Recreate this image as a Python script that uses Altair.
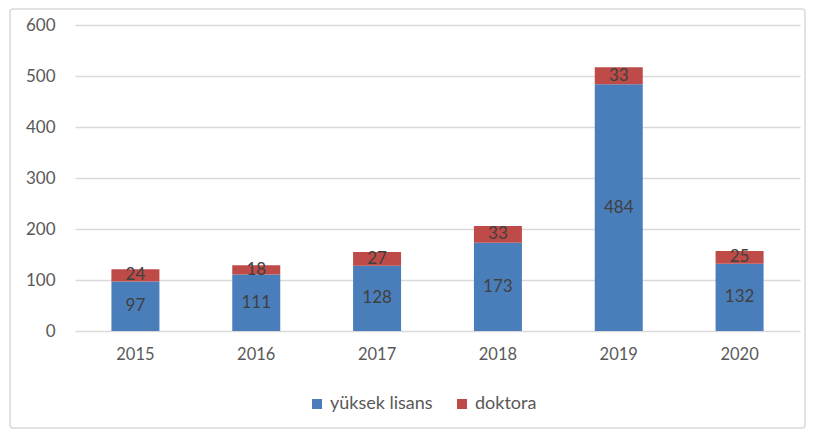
import altair as alt
import pandas as pd

years = ["2015", "2016", "2017", "2018", "2019", "2020"]
yuksek_lisans = [97, 111, 128, 173, 484, 132]
doktora = [24, 18, 27, 33, 33, 25]
series = ["yüksek lisans", "doktora"]
colors = ["#4A7EBB", "#BE4B48"]

rows = []
for i, y in enumerate(years):
    rows.append({"year": y, "series": series[0], "value": yuksek_lisans[i], "ord": 0})
    rows.append({"year": y, "series": series[1], "value": doktora[i], "ord": 1})
df = pd.DataFrame(rows)

FONT = "Lato"

base = alt.Chart(df).transform_stack(
    stack="value", groupby=["year"], as_=["s0", "s1"], sort=[alt.SortField("ord")]
).transform_calculate(mid="(datum.s0 + datum.s1) / 2")

bars = base.mark_bar(size=48).encode(
    x=alt.X("year:N", sort=years, title=None,
            axis=alt.Axis(labelAngle=0, labelFontSize=16.5, labelColor="#595959",
                          labelFont=FONT, ticks=False, domain=False, labelPadding=15)),
    y=alt.Y("s0:Q", title=None, scale=alt.Scale(domain=[0, 600]),
            axis=alt.Axis(values=[0, 100, 200, 300, 400, 500, 600], labelFontSize=17,
                          labelColor="#595959", labelFont=FONT, ticks=False, domain=False,
                          gridColor="#D9D9D9", gridWidth=1.5, labelPadding=20)),
    y2="s1:Q",
    color=alt.Color("series:N", scale=alt.Scale(domain=series, range=colors),
                    legend=alt.Legend(title=None, orient="none", direction="horizontal",
                                      legendX=233, legendY=370, symbolType="square",
                                      symbolSize=100, labelFontSize=18, labelFont=FONT,
                                      labelColor="#595959", columnPadding=20, labelOffset=4,
                                      symbolStrokeWidth=0)),
)

labels = base.mark_text(fontSize=17, font=FONT, color="#404040", baseline="middle").encode(
    x=alt.X("year:N", sort=years),
    y=alt.Y("mid:Q"),
    text="value:Q",
)

border = alt.Chart(pd.DataFrame({"a": [0]})).mark_rect(
    fill=None, stroke="#D9D9D9", strokeWidth=1.5, cornerRadius=3
).encode(x=alt.value(-65), x2=alt.value(730), y=alt.value(-16), y2=alt.value(403))

chart = alt.layer(border, bars, labels).properties(
    width=725, height=306,
    autosize=alt.AutoSizeParams(type="none"),
    padding={"left": 67, "top": 17, "right": 7, "bottom": 99},
).configure_view(stroke=None).configure_scale(bandPaddingInner=0.6, bandPaddingOuter=0.3)

chart.save("out.html", embed_options={"renderer": "svg", "actions": False})
